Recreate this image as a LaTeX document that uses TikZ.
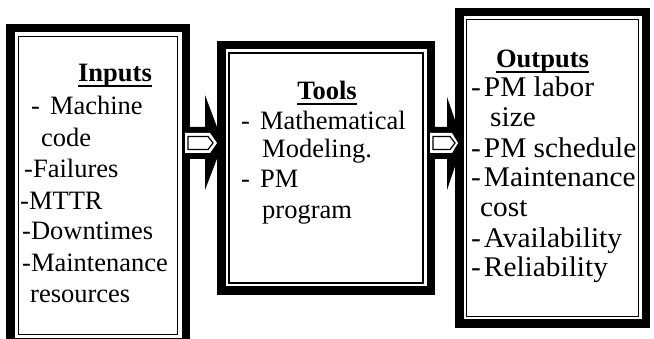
\documentclass[tikz,border=0pt]{standalone}
\usepackage{fontspec}
\setmainfont{Liberation Serif}
\newfontfamily\widefont[FakeStretch=1.03]{Liberation Serif}
\usetikzlibrary{calc}
\newcommand\myul[1]{\setbox0\hbox{#1}\rlap{\vrule height -3.5pt depth 5.5pt width \wd0}\box0}
\begin{document}
\begin{tikzpicture}[x=1pt,y=-1pt,
  box/.style={draw, line width=8.5pt, fill=white, inner sep=0pt, outer sep=4.25pt},
  thinline/.style={line width=1.5pt},
  txt/.style={anchor=base west, inner sep=0pt, font=\fontsize{26.5}{31}\selectfont},
  wtxt/.style={anchor=base west, inner sep=0pt, font=\fontsize{28.5}{31}\selectfont\widefont},
  ttl/.style={anchor=base, inner sep=0pt, font=\fontsize{26.5}{31}\selectfont\bfseries},
  inr/.style={draw=black, line width=1.2pt, fill=white}]
\useasboundingbox (0,0) rectangle (654,339);
\clip (0,0) rectangle (654,339);
% boxes
\node[box, minimum width=175.5pt, minimum height=314.5pt] (inb) at (98,185.5) {};
\node[box, minimum width=209.5pt, minimum height=245.5pt] (tob) at (326,168) {};
\node[box, minimum width=186.5pt, minimum height=311.5pt] (outb) at (552.5,168) {};
\draw[thinline] ([shift={(12.5,12.5)}]inb.north west) rectangle ([shift={(-12.5,-12.5)}]inb.south east);
\draw[thinline] ([shift={(12,12)}]tob.north west) rectangle ([shift={(-12,-12)}]tob.south east);
\draw[thinline] ([shift={(11.5,11.5)}]outb.north west) rectangle ([shift={(-11.5,-11.5)}]outb.south east);
% arrows
\coordinate (h) at (0,143);
\coordinate (a1s) at (inb.east |- h);
\coordinate (a1e) at (tob.west |- h);
\coordinate (a2s) at (tob.east |- h);
\coordinate (a2e) at (outb.west |- h);
\fill ($(a1s)+(-4,-16)$) -- ($(a1e)+(-12,-16)$) -- ($(a1e)+(-12,-48)$) -- ($(a1e)+(6,0)$) -- ($(a1e)+(-12,47)$) -- ($(a1e)+(-12,16)$) -- ($(a1s)+(-4,16)$) -- cycle;
\fill[white] ($(a1s)+(-5,-10)$) -- ($(a1e)+(-7,-10)$) -- ($(a1e)+(0,0)$) -- ($(a1e)+(-7,10)$) -- ($(a1s)+(-5,10)$) -- cycle;
\draw[inr] ($(a1s)+(-2,-6.5)$) -- ($(a1e)+(-9,-6.5)$) -- ($(a1e)+(-4,0)$) -- ($(a1e)+(-9,6.5)$) -- ($(a1s)+(-2,6.5)$) -- cycle;
\fill ($(a2s)+(-4,-16)$) -- ($(a2e)+(-8,-16)$) -- ($(a2e)+(-8,-46)$) -- ($(a2e)+(8,0)$) -- ($(a2e)+(-8,47)$) -- ($(a2e)+(-8,16)$) -- ($(a2s)+(-4,16)$) -- cycle;
\fill[white] ($(a2s)+(-5,-10)$) -- ($(a2e)+(-3,-10)$) -- ($(a2e)+(3,0)$) -- ($(a2e)+(-3,10)$) -- ($(a2s)+(-5,10)$) -- cycle;
\draw[inr] ($(a2s)+(-2,-6.5)$) -- ($(a2e)+(-5,-6.5)$) -- ($(a2e)+(0,0)$) -- ($(a2e)+(-5,6.5)$) -- ($(a2s)+(-2,6.5)$) -- cycle;
% inputs text
\node[ttl] (t0) at (115,82) {\myul{Inputs}};
\node[txt] (t1) at (31,115) {-\hspace{10pt}Machine};
\node[txt] (t2) at (41,147) {code};
\node[txt] (t3) at (24,178) {-Failures};
\node[txt] (t4) at (20,210) {-MTTR};
\node[txt] (t5) at (22,240) {-Downtimes};
\node[txt] (t6) at (22,272) {-Maintenance};
\node[txt] (t7) at (30,303) {resources};
% tools text
\node[ttl] (m0) at (327,100) {\myul{Tools}};
\node[txt] (m1) at (241,130) {-\hspace{10pt}Mathematical};
\node[txt] (m2) at (262,158) {Modeling.};
\node[txt] (m3) at (241,188) {-\hspace{10pt}PM};
\node[txt] (m4) at (262,219) {program};
% outputs text
\node[ttl] (o0) at (542.5,68) {\myul{Outputs}};
\node[wtxt] (o1) at (471,97) {-\hspace{3pt}PM labor};
\node[wtxt] (o2) at (490,127) {size};
\node[wtxt] (o3) at (471,158) {-\hspace{3pt}PM schedule};
\node[wtxt] (o4) at (471,187) {-\hspace{3pt}Maintenance};
\node[wtxt] (o5) at (480,217) {cost};
\node[wtxt] (o6) at (471,248) {-\hspace{3pt}Availability};
\node[wtxt] (o7) at (471,277) {-\hspace{3pt}Reliability};
\end{tikzpicture}
\end{document}
